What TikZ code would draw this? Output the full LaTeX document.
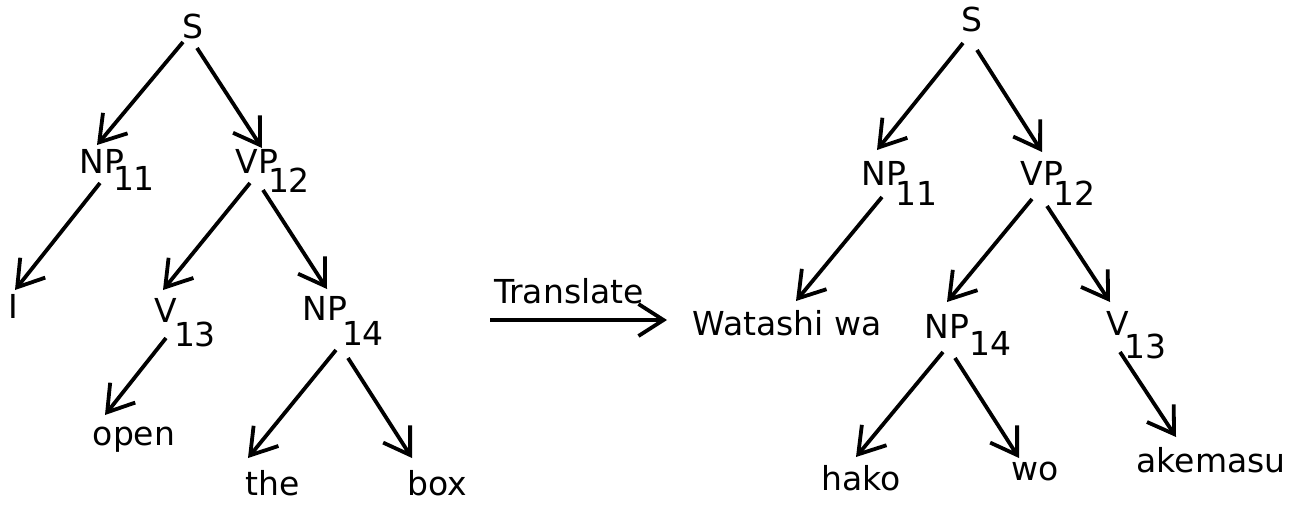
\documentclass[tikz,border=0pt]{standalone}
\usepackage{fontspec}
\setmainfont{DejaVu Sans}
\usetikzlibrary{arrows.meta}
\begin{document}
\begin{tikzpicture}[x=1pt,y=-1pt,
  lbl/.style={anchor=base,inner sep=0pt,outer sep=0pt,font=\fontsize{33}{40}\selectfont},
  arr/.style={line width=3.8pt,-{Straight Barb[length=25pt,width=32pt]}}]
\useasboundingbox[fill=white] (0,0) rectangle (1309,507);
% left tree
\node[lbl] (lS) at (193,38) {S};
\node[lbl] (lNP11) at (102,173) {NP};
\node[lbl] (lNP11s) at (134,190) {11};
\node[lbl] (lVP12) at (257,173) {VP};
\node[lbl] (lVP12s) at (289,192) {12};
\node[lbl] (lI) at (13,318) {I};
\node[lbl] (lV13) at (166,322) {V};
\node[lbl] (lV13s) at (195,346) {13};
\node[lbl] (lNP14) at (325,320) {NP};
\node[lbl] (lNP14s) at (363,345) {14};
\node[lbl] (lopen) at (134,445) {open};
\node[lbl] (lthe) at (273,495) {the};
\node[lbl] (lbox) at (437,495) {box};
\draw[arr] ([shift={(-10,4)}]lS.base) -- ([shift={(-5,-28)}]lNP11.base);
\draw[arr] ([shift={(4,10)}]lS.base) -- ([shift={(5,-25)}]lVP12.base);
\draw[arr] ([shift={(-2,10)}]lNP11.base) -- ([shift={(2,-28)}]lI.base);
\draw[arr] ([shift={(-7,10)}]lVP12.base) -- ([shift={(-3,-32)}]lV13.base);
\draw[arr] ([shift={(6,17)}]lVP12.base) -- ([shift={(2,-31)}]lNP14.base);
\draw[arr] ([shift={(0,16)}]lV13.base) -- ([shift={(-29,-30)}]lopen.base);
\draw[arr] ([shift={(11,30)}]lNP14.base) -- ([shift={(-25,-37)}]lthe.base);
\draw[arr] ([shift={(23,38)}]lNP14.base) -- ([shift={(-25,-37)}]lbox.base);
% translate arrow
\node[lbl] (tr) at (569,303) {Translate};
\node[lbl] (rW) at (787,335) {Watashi wa};
\draw[arr] ([shift={(-79,17)}]tr.base) -- ([shift={(-120,-15)}]rW.base);
% right tree
\node[lbl] (rS) at (972,31) {S};
\node[lbl] (rNP11) at (884,185) {NP};
\node[lbl] (rNP11s) at (916,205) {11};
\node[lbl] (rVP12) at (1042,185) {VP};
\node[lbl] (rVP12s) at (1074,205) {12};
\node[lbl] (rNP14) at (947,338) {NP};
\node[lbl] (rNP14s) at (990,355) {14};
\node[lbl] (rV13) at (1118,335) {V};
\node[lbl] (rV13s) at (1145,358) {13};
\node[lbl] (rhako) at (861,490) {hako};
\node[lbl] (rwo) at (1035,480) {wo};
\node[lbl] (rake) at (1211,472) {akemasu};
\draw[arr] ([shift={(-9,12)}]rS.base) -- ([shift={(-7,-35)}]rNP11.base);
\draw[arr] ([shift={(5,19)}]rS.base) -- ([shift={(0,-33)}]rVP12.base);
\draw[arr] ([shift={(-2,12)}]rNP11.base) -- ([shift={(9,-34)}]rW.base);
\draw[arr] ([shift={(-10,14)}]rVP12.base) -- ([shift={(0,-36)}]rNP14.base);
\draw[arr] ([shift={(5,21)}]rVP12.base) -- ([shift={(-8,-33)}]rV13.base);
\draw[arr] ([shift={(2,17)}]rV13.base) -- ([shift={(-35,-35)}]rake.base);
\draw[arr] ([shift={(-4,14)}]rNP14.base) -- ([shift={(-5,-33)}]rhako.base);
\draw[arr] ([shift={(8,20)}]rNP14.base) -- ([shift={(-16,-22)}]rwo.base);
\end{tikzpicture}
\end{document}
